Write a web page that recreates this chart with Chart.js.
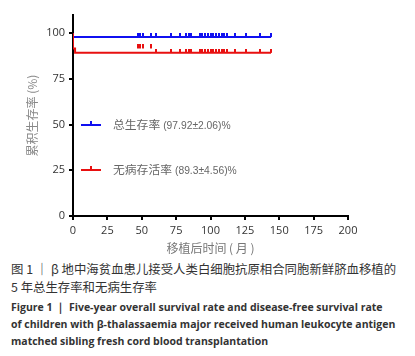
<!DOCTYPE html>
<html><head><meta charset="utf-8">
<script src="https://cdn.jsdelivr.net/npm/chart.js@4.4.1/dist/chart.umd.min.js"></script>
<style>
html,body{margin:0;padding:0;background:#fff;}
#wrap{position:relative;width:415px;height:258px;}
#cap{position:absolute;left:11px;top:260px;width:404px;color:#333;}
.zh{font-family:"Noto Sans CJK SC";font-size:12.4px;line-height:18px;white-space:nowrap;}
.en{font-family:"Open Sans";font-weight:bold;font-size:10.5px;line-height:17px;height:17px;white-space:nowrap;}
.en1{margin-top:3px;}
</style></head>
<body>
<div id="wrap"><canvas id="c" width="415" height="258"></canvas></div>
<div id="cap">
<div class="zh">图 1 ｜ β 地中海贫血患儿接受人类白细胞抗原相合同胞新鲜脐血移植的</div>
<div class="zh">5 年总生存率和无病生存率</div>
<div class="en en1">Figure 1 ｜ Five-year overall survival rate and disease-free survival rate</div>
<div class="en">of children with β-thalassaemia major received human leukocyte antigen</div>
<div class="en">matched sibling fresh cord blood transplantation</div>
</div>
<script>
// ---- data ----
const osTimes = [0, 1, 144];
const osValues = [100, 97.92, 97.92];
const dfsTimes = [0, 1.5, 58.5, 144];
const dfsValues = [100, 91.67, 89.3, 89.3];
const censorTimes = [47, 49, 51, 57, 60, 71, 78, 82, 84, 86, 92, 94, 96, 98, 100, 102, 104, 106, 108, 110, 112, 118, 126, 136, 144];
const seriesNamesZh = ['总生存率', '无病存活率'];
const seriesNamesVal = ['(97.92±2.06)%', '(89.3±4.56)%'];
const seriesColors = ['#1010f0', '#e81010'];
const xTicks = [0, 25, 50, 75, 100, 125, 150, 175, 200];
const yTicks = [0, 25, 50, 75, 100];
const xTitle = '移植后时间 ( 月 )';
const yTitle = '累积生存率 (%)';

function stepValue(times, values, t) {
  let v = values[0];
  for (let i = 0; i < times.length; i++) if (times[i] <= t) v = values[i];
  return v;
}
function censorMark(color) {
  const cv = document.createElement('canvas');
  cv.width = 2; cv.height = 8;
  const g = cv.getContext('2d');
  g.fillStyle = color;
  g.fillRect(0, 0, 2, 4);
  return cv;
}
const marks = seriesColors.map(censorMark);

const lineData = (ts, vs) => ts.map((t, i) => ({x: t, y: vs[i]}));
const censorData = (ts, vs) => censorTimes.map(t => ({x: t, y: stepValue(ts, vs, t)}));

const legendPlugin = {
  id: 'kmLegend',
  afterDraw(chart) {
    const ctx = chart.ctx;
    const ys = [125, 170];
    ctx.save();
    seriesNamesZh.forEach((name, i) => {
      const y = ys[i];
      ctx.strokeStyle = seriesColors[i];
      ctx.lineWidth = 2;
      ctx.beginPath(); ctx.moveTo(81, y); ctx.lineTo(101, y); ctx.stroke();
      ctx.beginPath(); ctx.moveTo(91, y); ctx.lineTo(91, y - 4); ctx.stroke();
      ctx.fillStyle = '#666';
      ctx.textBaseline = 'middle';
      ctx.font = '11.8px "Noto Sans CJK SC"';
      ctx.fillText(name, 113, y);
      const w = ctx.measureText(name).width;
      ctx.font = '10.3px "Liberation Sans"';
      ctx.fillText(seriesNamesVal[i], 113 + w + 3, y + 1);
    });
    ctx.restore();
  }
};

new Chart(document.getElementById('c'), {
  type: 'line',
  data: {
    datasets: [
      {data: lineData(dfsTimes, dfsValues), borderColor: seriesColors[1], borderWidth: 2, stepped: 'after', pointRadius: 0, fill: false},
      {data: lineData(osTimes, osValues), borderColor: seriesColors[0], borderWidth: 2, stepped: 'after', pointRadius: 0, fill: false},
      {type: 'scatter', data: censorData(dfsTimes, dfsValues), pointStyle: marks[1], showLine: false},
      {type: 'scatter', data: censorData(osTimes, osValues), pointStyle: marks[0], showLine: false}
    ]
  },
  options: {
    responsive: false,
    animation: false,
    layout: {padding: {left: 0, right: 67, top: 15, bottom: 0}},
    plugins: {legend: {display: false}, tooltip: {enabled: false}},
    scales: {
      x: {
        type: 'linear', min: 0, max: 200,
        afterBuildTicks: s => { s.ticks = xTicks.map(v => ({value: v})); },
        afterFit: s => { s.height = 42; },
        border: {display: true, color: '#000', width: 2},
        grid: {drawOnChartArea: false, drawTicks: true, tickLength: 4, color: '#000', lineWidth: 2},
        ticks: {color: '#333', font: {family: 'Open Sans', size: 11}, padding: 4, maxRotation: 0},
        title: {display: true, text: xTitle, color: '#777', font: {family: 'Noto Sans CJK SC', size: 12}, padding: {bottom: 2, top: 0}}
      },
      y: {
        type: 'linear', min: 0, max: 110,
        afterBuildTicks: s => { s.ticks = yTicks.map(v => ({value: v})); },
        afterFit: s => { s.width = 73; },
        border: {display: true, color: '#000', width: 2},
        grid: {drawOnChartArea: false, drawTicks: true, tickLength: 4, color: '#000', lineWidth: 2},
        ticks: {color: '#333', font: {family: 'Open Sans', size: 11}, padding: 4},
        title: {display: true, text: yTitle, color: '#888', font: {family: 'Noto Sans CJK SC', size: 12}, padding: {top: 25, bottom: 0}}
      }
    }
  },
  plugins: [legendPlugin]
});
</script>
</body></html>
